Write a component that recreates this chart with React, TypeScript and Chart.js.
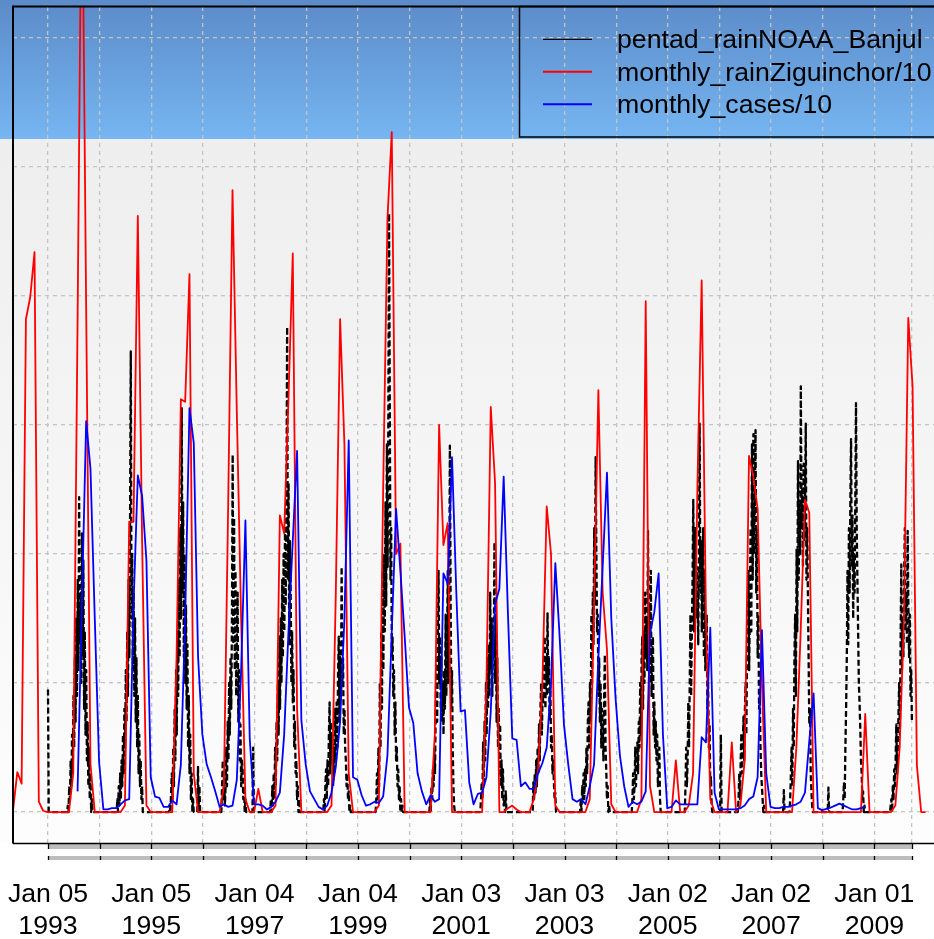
import React, { useEffect, useRef } from 'react';
import { Chart, registerables } from 'chart.js';

Chart.register(...registerables);

const W = 934;
const H = 939;

// ---------------- text ----------------
const seriesNames = ['pentad_rainNOAA_Banjul', 'monthly_rainZiguinchor/10', 'monthly_cases/10'];
const seriesColors = ['#000000', '#ff0000', '#0000ff'];
const labelYears = [1993, 1995, 1997, 1999, 2001, 2003, 2005, 2007, 2009];
const labelDays = ['05', '05', '04', '04', '03', '03', '02', '02', '01'];
const yGridValues = [0, 10, 20, 30, 40, 50, 60];

// ---------------- monthly rain Ziguinchor / 10 ----------------
const red1992 = [0.1, 3.1, 2.2, 38.2, 39.9, 43.4, 0.8, 0.1]; // May..Dec
const red1993 = [0, 0, 0, 0, 0, 0, 3, 38, 76, 39, 3.7, 0];
const red1994 = [0, 0, 0, 0, 0, 0, 0.5, 22.5, 22.5, 46.2, 21, 0.5];
const red1995 = [0, 0, 0, 0, 0, 0, 12, 32, 31.8, 41.7, 3, 0];
const red1996 = [0, 0, 0, 0, 0, 2, 24, 48.2, 31, 15, 1, 0];
const red1997 = [0, 1.8, 0, 0, 0, 0.5, 23, 21.6, 32, 43.3, 8, 0];
const red1998 = [0, 0, 0, 0, 0, 0, 0.5, 17, 38.2, 28.5, 3, 0];
const red1999 = [0, 0, 0, 0, 0, 0.5, 25, 46, 52.7, 20, 20.8, 0];
const red2000 = [0, 0, 0, 0, 0, 0, 6, 30, 20.7, 22.4, 0, 0];
const red2001 = [0, 0, 0, 0, 0, 0, 10, 31.4, 25.5, 0, 0, 0.3];
const red2002 = [0.5, 0.2, 0, 0, 0, 1, 3.3, 10, 23.7, 20, 0.5, 0];
const red2003 = [0, 0, 0, 0, 0, 0, 1, 16, 32.7, 17, 12.6, 0.6];
const red2004 = [0, 0, 0, 0, 0, 0, 1, 39.6, 2, 0, 0, 0];
const red2005 = [0, 0, 4, 0, 0, 0.5, 3, 25, 41.2, 15, 1, 0];
const red2006 = [0, 0, 0, 5.4, 0, 0.5, 4, 27.6, 26, 23.5, 10, 0];
const red2007 = [0, 0, 0, 0, 0, 0, 5, 14, 24.2, 23.2, 0, 0];
const red2008 = [0, 0, 0, 0, 0, 0, 0, 0, 0, 0, 7.6, 0];
const red2009 = [0, 0, 0, 0, 0, 0.5, 5, 15, 38.3, 33, 3.6, 0];
const red2010 = [0];

// ---------------- monthly cases / 10 ----------------
const blue1993 = [1.6, 16, 30.3, 26.6, 15]; // Aug..Dec
const blue1994 = [3.9, 0.2, 0.2, 0.3, 0.3, 0.6, 0.9, 1.0, 16, 26.1, 24.5, 19.5];
const blue1995 = [2.7, 1.2, 1.1, 0.4, 0.4, 0.9, 0.6, 3.7, 15, 31.3, 28.6, 12];
const blue1996 = [6, 3.7, 2.7, 1.6, 0.4, 0.6, 0.4, 0.5, 2.5, 11, 22.6, 5.7];
const blue1997 = [0.6, 0.6, 0.5, 0.2, 0.4, 0.8, 1.5, 6, 14, 21, 28, 7.1];
const blue1998 = [3.7, 1.6, 1.0, 0.4, 0.2, 0.5, 1.5, 3.5, 7, 15, 28.8, 2.7];
const blue1999 = [2.5, 1.3, 0.5, 0.6, 0.8, 0.7, 1.2, 4.4, 14, 23.5, 18.7, 13.6];
const blue2000 = [8.1, 6.9, 3, 1.6, 0.6, 1.3, 0.8, 1.0, 18.5, 17.7, 27.5, 17];
const blue2001 = [7.8, 7.9, 2.3, 0.6, 1.4, 1.5, 2.7, 7.8, 16.1, 17.3, 26, 15.3];
const blue2002 = [5.7, 5.6, 2, 2.3, 1.8, 1.8, 3, 3.8, 5, 10, 19.3, 13.6];
const blue2003 = [6.8, 3.7, 1.0, 0.8, 1.0, 0.6, 2, 3.7, 12, 19, 26.3, 15];
const blue2004 = [8.8, 4.4, 2, 0.4, 0.8, 0.6, 0.8, 1.6, 13.9, 15.5, 18.5, 6];
const blue2005 = [0.3, 0.4, 0.9, 0.6, 0.6, 0.6, 0.6, 0.6, 5.8, 5.4, 14.3, 1.5];
const blue2006 = [0.2, 0.2, 0.2, 0.2, 0.2, 0.3, 0.5, 1.0, 1.2, 2.7, 14.1, 3];
const blue2007 = [0.4, 0.3, 0.3, 0.4, 0.4, 0.5, 0.6, 0.8, 1.5, 5.5, 9.2, 0.3];
const blue2008 = [0.15, 0.25, 0.35, 0.5, 0.65, 0.5, 0.35, 0.2, 0.2, 0.3, 0.4]; // Jan..Nov

// ---------------- pentad rain NOAA Banjul (rainy-season pentads; other pentads are 0) ----------------
const seasonStartPentad = [29, 26, 27, 28, 24, 26, 27, 30, 29, 30, 24, 24, 26, 28, 28, 30, 24];
const black1993 = [0.5, 0, 2, 1, 4, 2, 6, 3, 9, 5, 12, 7, 15, 9, 18, 11, 24.4, 13, 17, 10, 21.6, 12, 19.5, 8, 14, 6, 11, 4, 7, 2, 5, 1, 3, 0, 1];
const black1994 = [1, 0, 2, 0.5, 3, 1, 4, 2, 6, 3, 8, 5, 11, 7, 14, 9, 18, 12, 22.8, 35.7, 15, 20, 11, 17, 9, 15, 7, 12, 5, 9, 3, 6, 2, 4, 1, 2, 0];
const black1995 = [0.5, 0, 1.5, 3, 1, 5, 2, 8, 4, 11, 6, 14, 9, 18, 12, 22, 15, 31.3, 17, 24, 12, 20, 10, 16, 8, 13, 5, 9, 3, 6, 1, 3, 0, 1];
const black1996 = [2, 4, 1, 3, 0.5, 2, 5, 2, 7, 4, 10, 6, 12, 8, 15, 27.7, 13, 22.8, 11, 18.7, 9, 14, 17, 7, 11, 4, 6.8, 2, 4, 3.3, 1, 2, 0, 1, 0];
const black1997 = [1, 0, 2, 0.5, 3, 1, 5, 2, 7, 4, 10, 6, 13.6, 8, 15, 10, 18, 12, 20, 14, 22, 16, 24, 37.6, 18, 25.5, 13, 21, 17, 10, 14, 8.5, 11, 5, 7, 3, 4, 1, 2, 0, 1];
const black1998 = [1, 0, 2, 3.3, 1, 4, 2, 6, 8.5, 3, 7, 4, 6, 2, 5, 3, 8, 4, 8.5, 5, 11, 13.6, 7, 12, 9, 19, 10, 11.9, 6, 8, 5, 4, 2, 3, 1, 1.6, 0, 0.5, 0];
const black1999 = [1, 3, 1, 5, 2, 10, 5, 14, 8, 18.7, 11, 20, 14, 24, 16, 28.5, 19, 30, 46.4, 32.7, 18, 22, 12, 13.6, 9, 11, 6, 8.5, 4, 5, 2, 3.3, 1, 2, 0, 1, 0, 0.5];
const black2000 = [1, 0, 2, 1, 3.3, 2, 5, 3, 8, 11.9, 7, 14, 18.7, 10, 13.6, 8, 12, 7, 10, 6, 11, 8, 15.3, 9, 13, 18.7, 10, 16, 28.4, 17, 8, 11, 5, 2, 0.5];
const black2001 = [1, 2.3, 1, 5.4, 2, 7, 4, 10, 6, 11.9, 8, 13, 9, 17, 11, 15, 9, 14, 12, 20.9, 10, 15.3, 7, 11.9, 5, 8, 3, 6.8, 2, 4, 1, 3.3, 0.5, 1, 0, 1.6];
const black2002 = [2.3, 1, 3, 1.5, 4, 2, 5, 3, 6.8, 4, 8, 10, 6, 9, 8.5, 11, 13.6, 8, 12, 9, 15.4, 10, 12, 7, 10, 5, 6, 3, 4, 2.3, 1, 1.5, 0];
const black2003 = [1, 0, 2, 1, 3, 1, 3.3, 2, 5, 3, 7, 8.5, 5, 10, 7, 15.3, 10, 17, 13, 22, 16, 27.5, 20.4, 14, 15.3, 9, 11.9, 7, 10, 5, 8, 6.8, 4, 9, 12.2, 5, 3.3, 1, 2, 0, 0.5];
const black2004 = [1, 3, 1, 2, 5, 2, 4, 5.4, 3, 7, 5, 10, 6, 12, 13.6, 8, 14, 10, 17, 12, 15, 11, 21.8, 14, 16, 10, 18.7, 9, 12, 13.6, 6, 8.5, 5, 7, 4, 6, 2, 3, 5, 1, 0];
const black2005 = [2, 5, 2, 4, 8.5, 5, 10, 15.3, 9, 14, 18, 24.2, 14, 18, 22, 15, 19, 18.7, 13, 20, 30.1, 17, 21, 14, 18, 22, 12, 18.7, 11, 13, 15.3, 8, 10, 5, 6.8, 2, 2.7, 0.5, 0];
const black2006 = [1, 3, 1, 4, 6.1, 3, 5, 7.4, 4, 8, 10, 6, 12, 15.3, 18.7, 11, 16, 22, 14, 28.5, 18, 29.3, 20, 24, 29.6, 17, 22, 12, 15.3, 8, 9, 5, 3, 2, 1, 0, 0.5];
const black2007 = [1, 3, 5, 2, 8, 5, 12, 15.3, 9, 20.4, 14, 27.2, 18, 24, 20, 33, 22, 25, 19, 27, 21, 24, 30.1, 18, 22, 17, 12, 6.8, 8, 3, 1.6, 0.5, 0];
const black2008 = [1, 2.3, 1, 5, 8, 12, 18.7, 13, 22, 17, 24, 28.9, 19, 23, 15, 20, 17, 24, 31.7, 22, 18, 14, 10, 8.5, 6.6, 4, 3, 1, 1.6, 0, 0.5];
const black2009 = [0.5, 1, 0, 2, 1, 3.3, 2, 4, 6.8, 3, 5, 7.4, 10, 6, 13, 19.2, 11, 15, 12, 18, 22, 14, 17, 13, 21.8, 16, 12, 15.3, 9, 11, 7];
// isolated off-season pentads: [year, pentad, value]
const pentadExtras = [
  [1993, 1, 9.5], [1995, 67, 3.5], [1995, 69, 2], [1996, 72, 5],
  [2006, 3, 6], [2007, 19, 1.7], [2008, 9, 1.9],
];
const PENTAD_LAST_YEAR = 2009;
const PENTAD_LAST_INDEX = 54;

// ---------------- build series ----------------
const PENTAD_DAY_OFFSET = 4 / 365; // pentads start on Jan 05
const monthlyPoints = (years: number[][], firstYear: number, firstMonth: number) => {
  const pts: { x: number; y: number }[] = [];
  years.forEach((vals, i) => {
    const yr = firstYear + i;
    const m0 = i === 0 ? firstMonth : 1;
    vals.forEach((v, j) => pts.push({ x: yr + (m0 - 1 + j) / 12, y: v }));
  });
  return pts;
};

const redPoints = monthlyPoints(
  [red1992, red1993, red1994, red1995, red1996, red1997, red1998, red1999, red2000, red2001,
    red2002, red2003, red2004, red2005, red2006, red2007, red2008, red2009, red2010], 1992, 5);
const bluePoints = monthlyPoints(
  [blue1993, blue1994, blue1995, blue1996, blue1997, blue1998, blue1999, blue2000, blue2001,
    blue2002, blue2003, blue2004, blue2005, blue2006, blue2007, blue2008], 1993, 8);

const blackSeasons = [black1993, black1994, black1995, black1996, black1997, black1998, black1999,
  black2000, black2001, black2002, black2003, black2004, black2005, black2006, black2007, black2008, black2009];
const blackPoints: { x: number; y: number }[] = [];
blackSeasons.forEach((season, i) => {
  const yr = 1993 + i;
  const last = yr === PENTAD_LAST_YEAR ? PENTAD_LAST_INDEX : 73;
  const start = seasonStartPentad[i];
  for (let p = 1; p <= last; p++) {
    const extra = pentadExtras.find((e) => e[0] === yr && e[1] === p);
    let v = 0;
    if (extra) v = extra[2];
    else if (p >= start && p < start + season.length) v = season[p - start];
    blackPoints.push({ x: yr + PENTAD_DAY_OFFSET + (p - 1) / 73, y: v });
  }
});
const blackStart = blackPoints[0].x;
const blackEnd = blackPoints[blackPoints.length - 1].x;

const xGridValues: number[] = [];
for (let y = 1993; y <= 2009; y++) xGridValues.push(y + PENTAD_DAY_OFFSET);
xGridValues.push(blackEnd);

// axis extents
const PX_PER_YEAR = 51.65;
const X_MIN = blackStart - 35 / PX_PER_YEAR;
const X_MAX = X_MIN + 921 / PX_PER_YEAR;
const Y_MIN = -2.4;
const Y_MAX = 62.4;

const FONT = '"Liberation Sans", Arimo, Helvetica, Arial, sans-serif';
const FONT_SIZE = 26.7;

const backgroundPlugin = {
  id: 'bgPanel',
  beforeDraw(chart: any) {
    const { ctx } = chart;
    ctx.save();
    ctx.fillStyle = '#ffffff';
    ctx.fillRect(0, 0, W, H);
    const gb = ctx.createLinearGradient(0, 0, 0, 139);
    gb.addColorStop(0, '#5b8bc8');
    gb.addColorStop(1, '#76b6f2');
    ctx.fillStyle = gb;
    ctx.fillRect(0, 0, W, 139);
    const gg = ctx.createLinearGradient(0, 139, 0, 843);
    gg.addColorStop(0, '#eeeeee');
    gg.addColorStop(1, '#fdfdfd');
    ctx.fillStyle = gg;
    ctx.fillRect(0, 139, W, 843 - 139);
    ctx.restore();
  },
};

const overlayPlugin = {
  id: 'overlay',
  afterDraw(chart: any) {
    const { ctx, chartArea: a, scales } = chart;
    const xs = scales.x;
    const line = (x1: number, y1: number, x2: number, y2: number) => {
      ctx.beginPath();
      ctx.moveTo(x1, y1);
      ctx.lineTo(x2, y2);
      ctx.stroke();
    };
    ctx.save();
    // time-axis bars
    const b0 = xs.getPixelForValue(blackStart);
    const b1 = xs.getPixelForValue(blackEnd);
    ctx.fillStyle = '#bdbdbd';
    ctx.fillRect(b0, a.bottom + 1, b1 - b0, 5);
    ctx.fillRect(b0, a.bottom + 13, b1 - b0, 4);
    ctx.strokeStyle = '#000000';
    ctx.lineWidth = 1.3;
    xGridValues.forEach((v) => {
      const px = Math.round(xs.getPixelForValue(v)) + 0.5;
      line(px, a.bottom, px, a.bottom + 6);
      line(px, a.bottom + 13, px, a.bottom + 17);
    });
    // frame
    ctx.lineWidth = 2;
    line(a.left, a.top - 0.5, W + 5, a.top - 0.5);
    line(a.left, a.top - 1.5, a.left, a.bottom + 0.5);
    ctx.lineWidth = 1.5;
    line(a.left, a.bottom + 0.5, W + 5, a.bottom + 0.5);
    // tick labels
    ctx.fillStyle = '#000000';
    ctx.font = `${FONT_SIZE}px ${FONT}`;
    ctx.textAlign = 'center';
    ctx.textBaseline = 'alphabetic';
    labelYears.forEach((yr, i) => {
      const px = xs.getPixelForValue(yr + PENTAD_DAY_OFFSET);
      ctx.fillText(`Jan ${labelDays[i]}`, px, 902);
      ctx.fillText(String(yr), px, 934);
    });
    // legend
    ctx.lineWidth = 1.5;
    ctx.strokeStyle = '#000000';
    ctx.strokeRect(519.5, 6.5, W + 20 - 519.5, 130.5);
    const rows = [39.3, 71.8, 104.3];
    const widths = [1.2, 2, 2];
    ctx.textAlign = 'left';
    seriesNames.forEach((name, i) => {
      ctx.strokeStyle = seriesColors[i];
      ctx.lineWidth = widths[i];
      line(543, rows[i], 592, rows[i]);
      ctx.fillStyle = '#000000';
      ctx.fillText(name, 617, rows[i] + 9);
    });
    ctx.restore();
  },
};

export default function App() {
  const canvasRef = useRef<HTMLCanvasElement | null>(null);

  useEffect(() => {
    if (!canvasRef.current) return;
    const gridOpts = { color: '#c4c4c4', lineWidth: 1.3, drawTicks: false };
    const chart = new Chart(canvasRef.current, {
      type: 'line',
      data: {
        datasets: [
          {
            label: seriesNames[2],
            data: bluePoints,
            borderColor: seriesColors[2],
            borderWidth: 1.8,
            pointRadius: 0,
            tension: 0,
            borderJoinStyle: 'round',
            order: 0,
          },
          {
            label: seriesNames[1],
            data: redPoints,
            borderColor: seriesColors[1],
            borderWidth: 1.8,
            pointRadius: 0,
            tension: 0,
            borderJoinStyle: 'round',
            order: 1,
          },
          {
            label: seriesNames[0],
            data: blackPoints,
            borderColor: seriesColors[0],
            borderWidth: 2.3,
            borderDash: [6, 3],
            pointRadius: 0,
            tension: 0,
            borderJoinStyle: 'round',
            order: 2,
          },
        ],
      } as any,
      options: {
        responsive: false,
        animation: false,
        devicePixelRatio: 1,
        parsing: false,
        normalized: true,
        layout: { padding: { left: 13, top: 7, right: 0, bottom: H - 843 } },
        plugins: { legend: { display: false }, tooltip: { enabled: false } },
        scales: {
          x: {
            type: 'linear',
            min: X_MIN,
            max: X_MAX,
            afterBuildTicks: (s: any) => {
              s.ticks = xGridValues.map((value) => ({ value }));
            },
            ticks: { display: false },
            grid: gridOpts,
            border: { display: false, dash: [4, 4] },
          },
          y: {
            type: 'linear',
            min: Y_MIN,
            max: Y_MAX,
            afterBuildTicks: (s: any) => {
              s.ticks = yGridValues.map((value) => ({ value }));
            },
            ticks: { display: false },
            grid: gridOpts,
            border: { display: false, dash: [4, 4] },
          },
        },
      } as any,
      plugins: [backgroundPlugin, overlayPlugin],
    });
    return () => chart.destroy();
  }, []);

  return (
    <div style={{ position: 'absolute', left: 0, top: 0, width: W, height: H, overflow: 'hidden' }}>
      <canvas ref={canvasRef} width={W} height={H} style={{ width: W, height: H, display: 'block' }} />
    </div>
  );
}
